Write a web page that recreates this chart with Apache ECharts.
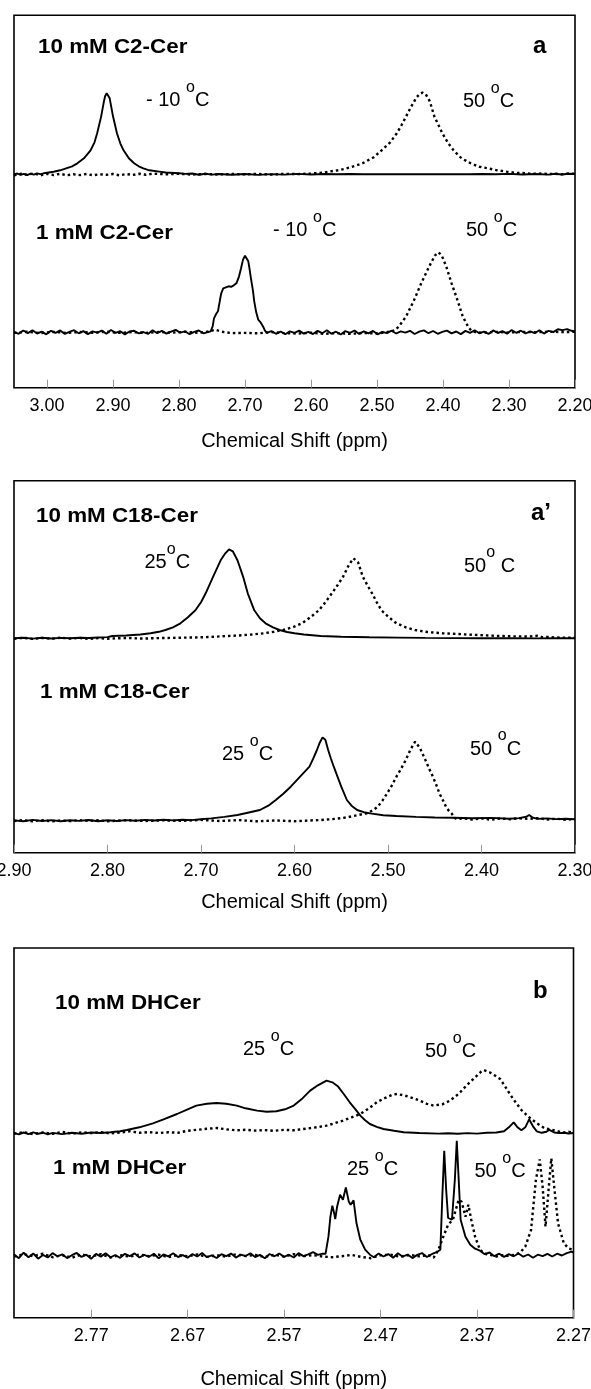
<!DOCTYPE html>
<html><head><meta charset="utf-8">
<script src="https://cdn.jsdelivr.net/npm/echarts@6/dist/echarts.min.js"></script>
<style>html,body{margin:0;padding:0;background:#fff}#c{width:591px;height:1389px}</style>
</head><body><div id="c"></div>
<script>
// ---------- tick labels ----------
const ticksA  = [3.00, 2.90, 2.80, 2.70, 2.60, 2.50, 2.40, 2.30, 2.20];
const ticksA2 = [2.90, 2.80, 2.70, 2.60, 2.50, 2.40, 2.30];
const ticksB  = [2.77, 2.67, 2.57, 2.47, 2.37, 2.27];

// ---------- panel a : C2-Cer  [ppm, intensity] ----------
const c2_10mM_m10C = [[3.05,0],[3.045,0.8],[3.04,-0.6],[3.035,0.5],[3.03,-0.8],[3.025,0.6],[3.02,-0.3],[3.015,0.9],[3.01,0.2],[3.005,1.0],[3.0,1.5],[2.99,2.5],[2.98,4],[2.971,6],[2.962,8],[2.954,11],[2.944,16],[2.934,24],[2.928,32],[2.924,41],[2.918,57.7],[2.914,72],[2.912,78],[2.9095,81],[2.905,76],[2.90,58],[2.894,41],[2.889,31],[2.884,24],[2.876,16],[2.868,11],[2.861,8],[2.854,6],[2.845,4],[2.83,2.7],[2.82,1.8],[2.80,1.0],[2.79,0.4],[2.78,0.8],[2.77,-0.5],[2.76,0.6],[2.75,-0.3],[2.74,0.3],[2.72,-0.4],[2.70,0.3],[2.68,-0.6],[2.66,0.2],[2.64,-0.3],[2.62,0.4],[2.60,-0.2],[2.58,0.3],[2.56,0],[2.54,0.3],[2.52,0],[2.50,0.2],[2.48,0],[2.46,0.1],[2.44,0],[2.42,0.2],[2.40,0],[2.38,0.2],[2.36,0],[2.34,0.3],[2.32,0],[2.30,0.4],[2.28,-0.2],[2.26,0.3],[2.24,-0.3],[2.23,0.5],[2.22,-0.2],[2.21,0.6],[2.20,0.3]];
const c2_10mM_50C = [[3.05,-1],[3.04,0.5],[3.03,-0.5],[3.02,1],[3.01,-1],[3.0,0.5],[2.99,-0.8],[2.98,0.5],[2.97,-1],[2.96,0],[2.95,-0.8],[2.94,0.3],[2.93,-1],[2.92,0],[2.91,-0.5],[2.90,0.3],[2.89,-1],[2.88,0.2],[2.87,-0.6],[2.86,0.5],[2.85,-0.5],[2.84,0.6],[2.82,0],[2.80,0.5],[2.78,-0.3],[2.76,0.4],[2.74,-0.2],[2.72,0.3],[2.70,0],[2.68,0.4],[2.66,-0.3],[2.64,0.5],[2.62,0.2],[2.60,0.8],[2.59,1.2],[2.58,1.8],[2.573,2.7],[2.556,4.3],[2.54,7],[2.522,11],[2.505,17],[2.493,24],[2.48,32],[2.470,41],[2.463,49],[2.456,57.7],[2.448,68],[2.44,77],[2.435,80.5],[2.431,81.7],[2.426,80],[2.42,73],[2.413,57.7],[2.401,41],[2.392,31],[2.384,24],[2.372,16],[2.358,11],[2.345,7.5],[2.332,6],[2.318,4],[2.304,2.7],[2.29,1.5],[2.28,1.3],[2.27,0.8],[2.26,0.5],[2.25,0.8],[2.24,0.2],[2.23,0.6],[2.22,0],[2.21,0.8],[2.20,0.5]];
const c2_1mM_m10C = [[3.05,0.5],[3.043,-1.5],[3.036,1.8],[3.029,-0.8],[3.022,2.0],[3.015,-1.2],[3.008,0.6],[3.001,-2.0],[2.994,1.5],[2.987,-0.5],[2.98,1.9],[2.973,-1.6],[2.966,0.4],[2.959,2.1],[2.952,-1.0],[2.945,1.2],[2.938,-1.8],[2.931,0.9],[2.924,-0.3],[2.917,1.7],[2.91,-1.4],[2.903,2.3],[2.896,-0.6],[2.889,1.1],[2.882,-2.1],[2.875,0.8],[2.868,1.6],[2.861,-1.1],[2.854,0.3],[2.847,-1.7],[2.84,2.0],[2.833,-0.9],[2.826,1.4],[2.819,-1.3],[2.812,0.7],[2.805,2.4],[2.798,-0.4],[2.791,1.0],[2.784,-1.9],[2.777,0.5],[2.77,1.8],[2.763,-1.0],[2.756,0.2],[2.752,1],[2.749,6],[2.747,14],[2.744,18],[2.741,21],[2.738,32],[2.736,39],[2.733,44],[2.729,45],[2.725,46],[2.721,45.5],[2.717,47],[2.713,49],[2.709,56],[2.706,64],[2.703,72.7],[2.700,76.5],[2.697,75],[2.695,71],[2.693,63],[2.691,54],[2.688,42],[2.686,31],[2.683,20],[2.680,12.7],[2.677,10.5],[2.675,9.3],[2.672,5],[2.670,2],[2.667,-0.5],[2.66,1.2],[2.653,-1.5],[2.646,0.8],[2.639,-2.0],[2.632,1.0],[2.625,-0.6],[2.618,1.7],[2.611,-1.3],[2.604,0.4],[2.597,-1.8],[2.59,1.5],[2.583,-0.9],[2.576,2.0],[2.569,-1.4],[2.562,0.6],[2.555,-2.2],[2.548,1.2],[2.541,-0.5],[2.534,1.8],[2.527,-1.6],[2.52,0.9],[2.513,-1.1],[2.506,1.4],[2.499,-2.0],[2.492,0.5],[2.485,-0.8],[2.478,1.6],[2.471,-1.2],[2.464,0.9],[2.457,-0.4],[2.45,1.5],[2.443,-1.7],[2.436,0.6],[2.429,1.9],[2.422,-0.9],[2.415,1.3],[2.408,-1.5],[2.401,0.4],[2.394,1.7],[2.387,-1.1],[2.38,0.8],[2.373,-1.8],[2.366,1.4],[2.359,-0.6],[2.352,2.1],[2.345,-1.0],[2.338,0.7],[2.331,-1.6],[2.324,1.9],[2.317,-0.7],[2.31,1.2],[2.303,-1.4],[2.296,2.2],[2.289,-0.5],[2.282,1.6],[2.275,-1.2],[2.268,1.0],[2.261,-0.8],[2.254,2.0],[2.247,-1.3],[2.24,1.5],[2.233,0.2],[2.226,3.0],[2.219,2.2],[2.212,3.2],[2.205,1.5],[2.20,0.8]];
const c2_1mM_50C = [[3.05,-0.5],[3.03,0.5],[3.01,-0.8],[2.99,0.4],[2.97,-0.6],[2.95,0.3],[2.93,-0.4],[2.91,0.6],[2.89,-0.5],[2.87,0.2],[2.85,-0.6],[2.83,0.4],[2.81,-0.3],[2.79,0.5],[2.77,-0.5],[2.755,0.8],[2.745,2.5],[2.735,0.5],[2.72,-0.8],[2.70,-0.6],[2.68,-1.0],[2.66,0.2],[2.64,-0.8],[2.62,-1.2],[2.60,-0.5],[2.58,-1.5],[2.56,-0.8],[2.54,-1.6],[2.52,-0.6],[2.50,-1.2],[2.49,-0.3],[2.48,0.8],[2.473,2],[2.467,5.7],[2.456,15.7],[2.444,32],[2.433,49],[2.421,65.7],[2.412,77],[2.407,80],[2.402,77],[2.395,65.7],[2.387,49],[2.378,32],[2.370,15.7],[2.361,4.5],[2.356,1],[2.35,0],[2.34,-0.5],[2.32,0.4],[2.30,-0.3],[2.28,0.5],[2.26,0],[2.24,0.6],[2.22,0.2],[2.20,0.5]];

// ---------- panel a' : C18-Cer ----------
const c18_10mM_25C = [[2.90,0],[2.89,0.6],[2.88,-0.3],[2.87,0.5],[2.86,-0.2],[2.85,0.4],[2.84,0],[2.83,0.5],[2.82,0.3],[2.81,0.8],[2.80,1.2],[2.795,2.3],[2.78,2.8],[2.765,3.8],[2.754,5],[2.745,6.5],[2.738,8.3],[2.73,11],[2.722,15],[2.714,21],[2.706,28],[2.700,36],[2.695,45],[2.687,61.7],[2.679,78],[2.674,85],[2.670,89],[2.666,87],[2.661,78],[2.655,61.7],[2.650,45],[2.643,28],[2.637,20],[2.631,15],[2.623,11],[2.616,8.3],[2.608,6.3],[2.600,5],[2.59,3.8],[2.572,2.3],[2.55,1.5],[2.52,1],[2.49,0.7],[2.46,0.4],[2.43,0.2],[2.40,0],[2.37,0.1],[2.34,-0.1],[2.32,0.2],[2.30,0]];
const c18_10mM_50C = [[2.90,-0.4],[2.89,0.5],[2.88,-0.6],[2.87,0.3],[2.86,-0.5],[2.85,0.6],[2.84,-0.3],[2.83,0.4],[2.82,-0.6],[2.81,0.2],[2.80,-0.4],[2.78,0.3],[2.76,-0.3],[2.754,0],[2.74,0.3],[2.72,0.6],[2.70,1.0],[2.685,1.6],[2.673,2.3],[2.66,2.8],[2.645,3.8],[2.633,5],[2.622,6.5],[2.612,8.3],[2.602,11],[2.592,15],[2.583,21],[2.574,28],[2.567,36],[2.560,45],[2.554,53],[2.548,61.7],[2.542,73],[2.537,80],[2.532,76],[2.527,61.7],[2.522,53],[2.517,45],[2.512,36],[2.507,28],[2.499,21],[2.491,15],[2.481,11],[2.471,8.3],[2.458,6.3],[2.442,5],[2.425,4.3],[2.41,3.5],[2.39,2.7],[2.37,2.0],[2.35,1.8],[2.34,2.5],[2.335,1.2],[2.329,1.3],[2.32,0.8],[2.31,0.5],[2.30,0.6]];
const c18_1mM_25C = [[2.90,0.3],[2.89,-0.5],[2.88,0.8],[2.87,-0.3],[2.86,0.6],[2.85,-0.6],[2.84,0.5],[2.83,-0.2],[2.82,0.7],[2.81,-0.5],[2.80,0.4],[2.79,-0.3],[2.78,0.6],[2.77,0],[2.76,0.8],[2.75,0.2],[2.74,0.9],[2.73,0.3],[2.72,1.0],[2.71,0.6],[2.70,1.5],[2.689,2.3],[2.675,3.8],[2.661,5.7],[2.65,8],[2.637,10.7],[2.628,15],[2.620,20.7],[2.612,27],[2.604,34],[2.599,39],[2.594,44],[2.589,49],[2.584,54],[2.58,62],[2.576,70.7],[2.573,78],[2.570,83.3],[2.567,81],[2.564,70.7],[2.561,62],[2.558,54],[2.554,44],[2.550,34],[2.544,20.7],[2.539,15],[2.533,10.7],[2.526,8.5],[2.519,7.3],[2.505,5.5],[2.491,4.7],[2.47,3.8],[2.45,3.2],[2.43,3.0],[2.41,2.5],[2.39,2.8],[2.37,2.0],[2.36,2.6],[2.352,4],[2.349,5.7],[2.345,3],[2.34,1.8],[2.33,2.3],[2.32,1.6],[2.31,2.0],[2.30,1.5]];
const c18_1mM_50C = [[2.90,-0.3],[2.89,0.5],[2.88,-0.5],[2.87,0.4],[2.86,-0.6],[2.85,0.3],[2.84,-0.4],[2.83,0.6],[2.82,-0.2],[2.81,0.4],[2.80,-0.5],[2.78,0.5],[2.76,-0.3],[2.74,0.4],[2.72,-0.2],[2.70,0.8],[2.68,-0.3],[2.66,0.6],[2.64,-0.6],[2.62,0.2],[2.60,-0.5],[2.58,0.4],[2.572,0.7],[2.56,1.5],[2.544,3.3],[2.533,5.5],[2.523,7.3],[2.516,10.5],[2.511,14],[2.506,20],[2.501,27.3],[2.496,35],[2.491,44],[2.486,52],[2.481,60.7],[2.476,71],[2.471,79],[2.466,73],[2.460,60.7],[2.456,52],[2.452,44],[2.448,35],[2.445,27.3],[2.441,20],[2.438,14],[2.435,10],[2.432,7.3],[2.429,3],[2.426,1.5],[2.42,2.5],[2.41,1.2],[2.40,2.3],[2.39,1.0],[2.38,2.2],[2.37,1.5],[2.36,2.5],[2.35,1.8],[2.34,2.6],[2.33,1.2],[2.32,2.0],[2.31,1.0],[2.30,1.5]];

// ---------- panel b : DHCer ----------
const dh_10mM_25C = [[2.85,0.5],[2.845,-1.0],[2.84,0.8],[2.835,-0.8],[2.83,1.0],[2.825,-0.5],[2.82,0.6],[2.815,-1.0],[2.81,0.4],[2.80,-0.8],[2.79,0.5],[2.78,-0.5],[2.77,0.8],[2.76,0.3],[2.75,1.0],[2.74,2.0],[2.733,3.3],[2.72,6],[2.706,10],[2.695,14],[2.681,19.3],[2.67,24],[2.661,27.7],[2.65,29.5],[2.640,30.3],[2.63,29.5],[2.619,27.7],[2.61,25],[2.598,22.7],[2.588,21.5],[2.578,22],[2.569,24],[2.56,27.7],[2.552,34],[2.543,42.7],[2.535,48],[2.526,52.7],[2.52,51],[2.514,46.7],[2.508,39],[2.502,31],[2.496,24],[2.491,17.7],[2.486,13],[2.481,9.3],[2.474,6.5],[2.467,4.3],[2.456,2.5],[2.446,1],[2.43,0.3],[2.41,-0.3],[2.40,0],[2.39,-0.5],[2.38,0.2],[2.37,-0.3],[2.36,0.5],[2.35,0.8],[2.342,2],[2.337,6],[2.332,11],[2.328,6],[2.324,3],[2.32,6],[2.316,14],[2.312,7],[2.308,2],[2.303,0.5],[2.298,1.5],[2.295,3.5],[2.29,0.8],[2.285,0.2],[2.28,0.5],[2.275,-0.2],[2.27,0.3]];
const dh_10mM_50C = [[2.85,-0.5],[2.84,1.2],[2.83,-0.8],[2.82,0.8],[2.81,-0.6],[2.80,1.5],[2.79,-0.4],[2.78,1.0],[2.77,0.2],[2.76,1.2],[2.75,-0.2],[2.74,0.8],[2.73,2],[2.72,0.5],[2.71,1.2],[2.70,0.3],[2.69,1.0],[2.68,0.6],[2.67,2.5],[2.66,3.5],[2.65,4.5],[2.64,5.3],[2.63,4],[2.62,3],[2.61,3.5],[2.60,2.7],[2.59,3.2],[2.58,2.5],[2.57,3.5],[2.56,3.0],[2.55,4.3],[2.54,5.5],[2.533,6.5],[2.526,7.7],[2.518,10],[2.509,12.7],[2.5,16],[2.491,19.3],[2.482,25],[2.474,31],[2.465,35.5],[2.458,38.5],[2.453,39.3],[2.446,38],[2.439,36],[2.43,33],[2.422,29.5],[2.415,27.7],[2.406,29],[2.398,32.7],[2.389,39.5],[2.381,47.7],[2.372,56],[2.366,61.5],[2.363,63.3],[2.357,61],[2.351,57.5],[2.346,54.3],[2.341,47],[2.336,39.3],[2.33,31],[2.324,23.3],[2.316,16],[2.308,10],[2.300,5],[2.292,3.5],[2.285,1.7],[2.28,0.8],[2.275,1.5],[2.27,0.5]];
const dh_1mM_25C = [[2.85,1.5],[2.845,-2.5],[2.84,3],[2.835,-1.5],[2.83,2.2],[2.825,-3],[2.82,0.8],[2.815,-1.8],[2.81,2.6],[2.805,-0.6],[2.80,1.4],[2.795,-2.4],[2.79,0.5],[2.785,2.8],[2.78,-1.2],[2.775,1.0],[2.77,-3.2],[2.765,1.8],[2.76,-0.9],[2.755,2.5],[2.75,-1.6],[2.745,0.7],[2.74,-2.2],[2.735,1.9],[2.73,-0.4],[2.725,2.3],[2.72,-1.8],[2.715,0.9],[2.71,-1.1],[2.705,2.0],[2.70,-2.6],[2.695,1.2],[2.69,-0.7],[2.685,2.4],[2.68,-1.3],[2.675,0.6],[2.67,-2.0],[2.665,1.6],[2.66,-0.8],[2.655,2.7],[2.65,-1.5],[2.645,0.4],[2.64,-2.3],[2.635,1.5],[2.63,-0.5],[2.625,2.1],[2.62,-1.9],[2.615,1.1],[2.61,-0.3],[2.605,2.4],[2.60,-1.4],[2.595,0.8],[2.59,-2.5],[2.585,1.7],[2.58,-0.6],[2.575,2.2],[2.57,-1.2],[2.565,1.0],[2.56,-1.8],[2.555,2.6],[2.55,-0.4],[2.545,1.3],[2.54,3.5],[2.535,0.8],[2.53,2.0],[2.527,2],[2.524,19.3],[2.522,39],[2.520,50],[2.518,42],[2.517,36.7],[2.515,49.3],[2.512,61],[2.509,56],[2.506,68.3],[2.503,54.3],[2.501,51],[2.498,55.3],[2.495,32.7],[2.491,16],[2.486,6],[2.481,1],[2.477,-1.5],[2.472,2.2],[2.467,-0.8],[2.462,1.6],[2.457,-2.0],[2.452,2.5],[2.447,-1.0],[2.442,1.2],[2.437,-2.4],[2.432,0.8],[2.427,2.6],[2.422,-1.3],[2.417,1.5],[2.412,3.5],[2.408,6],[2.406,59],[2.404,105],[2.402,66],[2.400,37.7],[2.396,36],[2.393,76],[2.391,115],[2.389,76],[2.387,36],[2.382,19],[2.377,11],[2.372,7],[2.367,5],[2.362,1.5],[2.357,3.2],[2.352,-0.5],[2.347,2.0],[2.342,-1.2],[2.337,1.5],[2.332,-0.6],[2.327,2.2],[2.322,-1.0],[2.317,1.2],[2.312,-2.0],[2.307,1.0],[2.302,-0.5],[2.297,1.8],[2.292,-0.8],[2.287,2.0],[2.282,0.2],[2.277,2.5],[2.272,4],[2.27,3]];
const dh_1mM_50C = [[2.85,-1],[2.84,1.5],[2.83,-0.5],[2.82,2.0],[2.81,-1.5],[2.80,0.5],[2.79,-2.0],[2.78,1.2],[2.77,-0.8],[2.76,1.5],[2.75,-1.8],[2.74,0.6],[2.73,-1.0],[2.72,1.3],[2.71,-0.5],[2.70,1.0],[2.69,-1.5],[2.68,0.8],[2.67,-0.6],[2.66,1.2],[2.65,-1.2],[2.64,0.5],[2.63,-0.9],[2.62,1.4],[2.61,-0.4],[2.60,0.8],[2.59,-1.3],[2.58,1.0],[2.57,-0.8],[2.56,1.5],[2.55,-0.5],[2.54,0.6],[2.53,-0.8],[2.52,-1.5],[2.51,-0.5],[2.50,0.8],[2.49,-1.2],[2.48,-2.5],[2.47,0.5],[2.46,1.0],[2.45,-1.0],[2.44,0.8],[2.43,-0.6],[2.42,0.4],[2.415,-2],[2.410,6],[2.405,19],[2.400,31],[2.395,36],[2.389,56],[2.386,54],[2.382,39],[2.379,51],[2.376,36],[2.372,19],[2.367,6],[2.362,2],[2.355,0.5],[2.35,-0.8],[2.345,0.6],[2.34,-0.4],[2.335,0.5],[2.33,1.0],[2.325,3.5],[2.320,9],[2.314,25.7],[2.309,75.7],[2.305,96.3],[2.302,69],[2.299,29],[2.297,27],[2.295,75.7],[2.293,97.3],[2.290,69],[2.286,32.3],[2.280,12.3],[2.275,7.3],[2.27,5.7]];

// ---------- build chart ----------
const FONT = '"Liberation Sans", Arial, sans-serif';
const panels = [
  {top:15.3,  h:372.4, w:561,   min:2.20, max:3.05, ticks:ticksA,  gap:44, hi:213.4, lo:55.4,
   s:[c2_10mM_m10C, c2_10mM_50C, c2_1mM_m10C, c2_1mM_50C]},
  {top:480.7, h:372,   w:561,   min:2.30, max:2.90, ticks:ticksA2, gap:40, hi:214.4, lo:32,
   s:[c18_10mM_25C, c18_10mM_50C, c18_1mM_25C, c18_1mM_50C]},
  {top:948,   h:369.7, w:559.5, min:2.27, max:2.85, ticks:ticksB,  gap:52, hi:184.4, lo:62,
   s:[dh_10mM_25C, dh_10mM_50C, dh_1mM_25C, dh_1mM_50C]}
];
const grid=[], xAxis=[], yAxis=[], series=[];
panels.forEach((p,i)=>{
  grid.push({left:14, top:p.top, width:p.w, height:p.h, show:true, borderColor:'#000', borderWidth:1.6,
    backgroundColor:'transparent', containLabel:false, outerBoundsMode:'none'});
  xAxis.push({type:'value', gridIndex:i, min:p.min, max:p.max, inverse:true,
    name:'Chemical Shift (ppm)', nameLocation:'middle', nameGap:p.gap,
    nameTextStyle:{fontFamily:FONT, fontSize:20, color:'#000'},
    axisLine:{show:false}, splitLine:{show:false},
    axisTick:{show:true, inside:true, length:8, customValues:p.ticks, lineStyle:{color:'#999', width:1}},
    axisLabel:{show:true, customValues:p.ticks, formatter:v=>Number(v).toFixed(2), margin:9, fontFamily:FONT, fontSize:18, color:'#000', showMinLabel:true, showMaxLabel:true, hideOverlap:false}
  });
  yAxis.push({type:'value', gridIndex:i, min:0, max:p.h, show:false});
  const mk=(d,off,dot)=>({type:'line', xAxisIndex:i, yAxisIndex:i, showSymbol:false, symbol:'none', silent:true, animation:false,
     data:d.map(q=>[q[0], q[1]+off]),
     lineStyle:{color:'#000', width:dot?2.4:1.9, type:dot?[2.5,3]:'solid', cap:'butt'}, z:dot?3:2});
  series.push(mk(p.s[0],p.hi,false), mk(p.s[1],p.hi,true), mk(p.s[2],p.lo,false), mk(p.s[3],p.lo,true));
});

// text measuring (layout only)
const mctx = document.createElement('canvas').getContext('2d');
function tw(t, font){ mctx.font = font; return mctx.measureText(t).width; }

function bold(text, left, baseline, fs, sx){
  return {type:'text', left:left, top:baseline-fs*0.85, scaleX:sx||1, silent:true,
    style:{text:text, font:'bold '+fs+'px '+FONT, fill:'#000'}};
}
const TF = 20, SF = 16;
function temp(pre, post, left, baseline, out){
  const fMain = TF+'px '+FONT, fSup = SF+'px '+FONT;
  const w1 = tw(pre, fMain), w2 = tw('o', fSup);
  out.push({type:'text', left:left, top:baseline-TF*0.85, silent:true, style:{text:pre, font:fMain, fill:'#000'}});
  out.push({type:'text', left:left+w1, top:baseline-TF*0.716-SF*0.85, silent:true, style:{text:'o', font:fSup, fill:'#000'}});
  out.push({type:'text', left:left+w1+w2, top:baseline-TF*0.85, silent:true, style:{text:post, font:fMain, fill:'#000'}});
}
const graphic = [
  bold('10 mM C2-Cer', 38, 54, 20, 1.12), bold('a', 533, 55, 24),
  bold('1 mM C2-Cer', 36, 240.7, 20, 1.12),
  bold('10 mM C18-Cer', 36, 523.3, 20, 1.12), bold('a\u2019', 531, 521.7, 24),
  bold('1 mM C18-Cer', 40, 699.3, 20, 1.12),
  bold('10 mM DHCer', 55, 1010.7, 20, 1.12), bold('b', 533, 1000, 24),
  bold('1 mM DHCer', 53, 1175, 20, 1.12)
];
temp('- 10 ', 'C', 146, 107.5, graphic); temp('50 ', 'C', 463, 108.5, graphic);
temp('- 10 ', 'C', 273, 237.5, graphic); temp('50 ', 'C', 466, 237.5, graphic);
temp('25', 'C', 144.5, 569.5, graphic);  temp('50', ' C', 464, 573, graphic);
temp('25 ', 'C', 222, 761.7, graphic);   temp('50 ', 'C', 470, 756, graphic);
temp('25 ', 'C', 243, 1056.7, graphic);  temp('50 ', 'C', 425, 1058.3, graphic);
temp('25 ', 'C', 347, 1176.7, graphic);  temp('50 ', 'C', 474.5, 1178.3, graphic);

const chart = echarts.init(document.getElementById('c'), null, {renderer:'canvas'});
chart.setOption({animation:false, backgroundColor:'#fff', grid, xAxis, yAxis, series, graphic});
</script></body></html>
